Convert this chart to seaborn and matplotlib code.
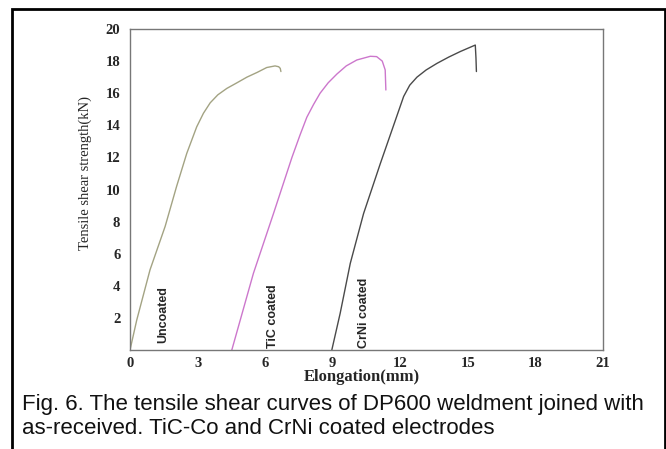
import numpy as np
import pandas as pd
import matplotlib
matplotlib.use("Agg")
import matplotlib.pyplot as plt
import seaborn as sns

# curves (elongation mm, load kN)
uncoated_x = [0.0, 0.3, 0.89, 1.56, 2.07, 2.52, 2.96, 3.26, 3.56, 3.9, 4.3, 4.75, 5.19, 5.65, 6.07, 6.44, 6.6, 6.67, 6.7]
uncoated_y = [0.0, 1.87, 5.0, 7.7, 10.2, 12.25, 13.9, 14.75, 15.4, 15.9, 16.3, 16.65, 17.0, 17.3, 17.6, 17.7, 17.65, 17.55, 17.35]

tic_x = [4.52, 5.48, 6.37, 7.19, 7.55, 7.85, 8.15, 8.44, 8.8, 9.19, 9.6, 10.07, 10.67, 10.95, 11.2, 11.33, 11.36]
tic_y = [0.0, 4.78, 8.5, 12.0, 13.4, 14.5, 15.3, 16.0, 16.65, 17.2, 17.7, 18.07, 18.3, 18.28, 18.0, 17.45, 16.2]

crni_x = [8.96, 9.33, 9.78, 10.37, 11.11, 11.63, 12.15, 12.42, 12.74, 13.15, 13.63, 14.15, 14.67, 15.0, 15.33, 15.36, 15.38]
crni_y = [0.0, 2.28, 5.4, 8.5, 11.6, 13.7, 15.8, 16.5, 17.0, 17.45, 17.86, 18.25, 18.6, 18.8, 19.0, 18.2, 17.35]

series = ["Uncoated", "TiC coated", "CrNi coated"]
label_x = [1.47, 6.37, 10.37]
label_y = [2.2, 2.1, 2.3]
colors = {"Uncoated": "#a3a383", "TiC coated": "#cc77cc", "CrNi coated": "#4a4a4a"}

caption = ("Fig. 6. The tensile shear curves of DP600 weldment joined with\n"
           "as-received. TiC-Co and CrNi coated electrodes")

frames = []
for name, xs, ys in zip(series, [uncoated_x, tic_x, crni_x], [uncoated_y, tic_y, crni_y]):
    frames.append(pd.DataFrame({"x": xs, "y": ys, "sample": name}))
df = pd.concat(frames, ignore_index=True)

sns.set_style("white")
fig = plt.figure(figsize=(6.66, 4.49), dpi=100)
ax = fig.add_axes([0.1952, 0.2205, 0.7102, 0.7149])

sns.lineplot(data=df, x="x", y="y", hue="sample", palette=colors, sort=False,
             estimator=None, legend=False, linewidth=1.0, ax=ax)

ax.set_xlim(0, 21)
ax.set_ylim(0, 20)
ax.set_xticks(np.arange(0, 22, 3))
ax.set_yticks(np.arange(2, 21, 2))
serif = {"family": "Liberation Serif", "weight": "bold", "size": 10.5}
ax.set_xticklabels([str(v) for v in range(0, 22, 3)], fontdict=serif)
ax.set_yticklabels([str(v) for v in range(2, 21, 2)], fontdict=serif)
ax.tick_params(axis="x", direction="in", length=3, color="#777777", pad=5)
ax.tick_params(axis="y", direction="out", length=2, color="#777777", pad=5)
for sp in ax.spines.values():
    sp.set_color("#777777")
    sp.set_linewidth(1.0)

ax.set_xlabel("Elongation(mm)", family="Liberation Serif", weight="bold", size=12, va="center")
ax.set_ylabel("Tensile shear strength(kN)", family="Liberation Serif", size=10.5)
ax.yaxis.set_label_coords(-0.08, 0.55)
ax.xaxis.set_label_coords(0.49, -0.084)

for name, lx, ly in zip(series, label_x, label_y):
    ax.text(lx, ly, name, rotation=90, ha="center", va="center",
            family=["Liberation Sans Narrow", "Liberation Sans"], weight="bold", size=9)

# outer frame of the figure panel
fig.patches.append(plt.Rectangle((0.018, -0.05), 0.98, 1.03, transform=fig.transFigure,
                                 fill=False, edgecolor="black", linewidth=2.0))

fig.text(0.033, 0.073, caption, ha="left", va="center", family="Liberation Sans",
         size=16, linespacing=1.2, color="#111111")

fig.savefig("out.png", dpi=100)
